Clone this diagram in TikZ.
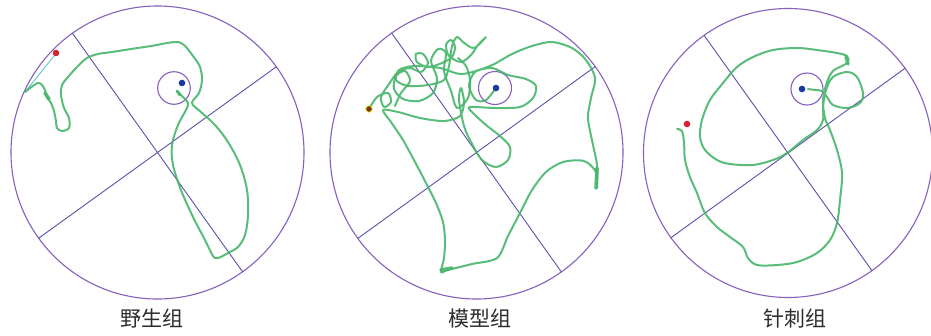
\documentclass[tikz,border=0pt]{standalone}
\usepackage{fontspec}
\newfontfamily\cjk{Noto Sans CJK SC}
\definecolor{poolc}{RGB}{135,95,190}
\definecolor{diac}{RGB}{90,80,170}
\definecolor{trackc}{RGB}{72,182,108}
\definecolor{cyanc}{RGB}{80,190,200}
\definecolor{redc}{RGB}{215,35,50}
\definecolor{bluec}{RGB}{25,55,165}
\definecolor{brownc}{RGB}{110,60,30}
\definecolor{labc}{RGB}{45,45,45}
\tikzset{
  pool/.style={draw=poolc, line width=1.1pt},
  dia/.style={draw=diac, line width=0.9pt},
  plat/.style={draw=poolc, line width=1.1pt},
  track/.style={draw=trackc, line width=2pt, line join=round, line cap=round, opacity=0.9},
  thin track/.style={draw=cyanc, line width=0.8pt},
  dotred/.style={fill=redc, draw=none},
  dotblue/.style={fill=bluec, draw=none},
  lab/.style={font=\cjk\fontsize{21}{21}\selectfont, text=labc, inner sep=0pt}
}
\begin{document}
\begin{tikzpicture}[x=1pt,y=-1pt]
\useasboundingbox[fill=white] (0,0) rectangle (931,335);

% ---------- pool 1 ----------
\coordinate (c1) at (157.5,152.5);
\draw[pool] (c1) circle[radius=146.5];
\path (c1) ++(234.5:146.5) coordinate (a1s) (c1) ++(54.5:146.5) coordinate (a1e)
      (c1) ++(144.2:146.5) coordinate (b1s) (c1) ++(-35.8:146.5) coordinate (b1e);
\draw[dia] (a1s) -- (a1e);
\draw[dia] (b1s) -- (b1e);
\draw[plat] (174,88) circle[radius=16.3];
\draw[thin track] (54,56) -- (25,92);
\draw[track] plot[smooth, tension=0.55] coordinates {
 (25,92) (38,83) (44,88) (47,97) (51,103) (54,111) (56,121) (57,128) (62,131) (69,128) (69,118)
 (64,108) (61,95) (62,85) (68,77) (78,66) (87,58) (98,54) (112,52) (131,49) (151,46) (175,42)
 (184,45) (193,56) (200,67) (202,80) (199,93) (192,103) (201,112) (215,125) (228,142) (240,165)
 (247,190) (248,215) (245,235) (238,247) (228,253) (218,258) (213,256) (205,240) (193,217)
 (181,190) (173,165) (172,145) (178,125) (186,110) (188,103) (183,97) (178,92)};
\draw[track, line width=3.5pt] (45,93) -- (49,99);
\draw[track, line width=3pt] (180,95) -- (177,91);
\fill[dotred] (56,53) circle[radius=3.3];
\fill[dotblue] (182,83) circle[radius=3.3];
\node[lab] (l1) at (152,319) {野生组};

% ---------- pool 2 ----------
\coordinate (c2) at (476.5,152.5);
\draw[pool] (c2) circle[radius=146.5];
\path (c2) ++(234.6:146.5) coordinate (a2s) (c2) ++(54.6:146.5) coordinate (a2e)
      (c2) ++(144.1:146.5) coordinate (b2s) (c2) ++(-35.9:146.5) coordinate (b2e);
\draw[dia] (a2s) -- (a2e);
\draw[dia] (b2s) -- (b2e);
\draw[plat] (495,88) circle[radius=16.5];
\draw[track] plot[smooth, tension=0.5] coordinates {
 (369,109) (377,97) (388,93) (391,102) (384,107) (381,97) (389,84) (398,72) (410,68) (421,72)
 (428,63) (423,54) (416,54) (417,62) (428,67) (442,63) (452,57) (455,47) (451,40) (446,45)
 (449,56) (461,62) (471,55) (478,45) (486,37) (474,48) (463,42) (457,37) (452,46) (449,66)
 (444,80) (428,85) (408,86) (396,80) (399,70) (414,66) (440,68) (462,74) (490,66) (512,54)
 (532,46) (552,42) (572,48) (586,60) (595,78) (591,98) (588,118) (593,145) (597,165) (597,188)
 (596,172) (584,161) (563,162) (546,172) (532,190) (520,213) (508,236) (497,258) (472,264)
 (448,270) (441,272) (444,258) (445,240) (443,222) (436,203) (426,183) (415,162) (403,140)
 (391,122) (383,110) (398,112) (420,118) (444,121) (460,116) (464,102) (461,88) (459,100)
 (464,126) (471,142) (482,160) (496,167) (508,160) (510,147) (500,136) (486,125) (472,112)
 (470,107) (495,108) (520,107) (533,98) (536,86) (526,79) (508,75) (492,68) (475,72)
 (469,86) (476,100) (486,100) (496,88)};
\draw[track] plot[smooth, tension=0.5] coordinates {
 (395,106) (401,93) (410,81) (405,71) (396,76) (394,89) (403,99) (419,101) (433,93) (437,78)
 (431,61) (438,49) (446,53) (444,71) (451,91) (457,108) (468,98) (470,80) (466,66) (458,58)};
\draw[track, line width=3.6pt] (597,168) -- (596,188);
\draw[track, line width=3.6pt] (441,270) -- (452,268);
\fill[brownc] (369,109) circle[radius=3];
\draw[yellow!80!orange, line width=0.6pt] (369,109) circle[radius=3.3];
\fill[dotblue] (496,88) circle[radius=3.3];
\node[lab] (l2) at (479.5,319) {模型组};

% ---------- pool 3 ----------
\coordinate (c3) at (788,153);
\draw[pool] (c3) circle[radius=144.5];
\path (c3) ++(234.5:144.5) coordinate (a3s) (c3) ++(54.5:144.5) coordinate (a3e)
      (c3) ++(144.1:144.5) coordinate (b3s) (c3) ++(-35.9:144.5) coordinate (b3e);
\draw[dia] (a3s) -- (a3e);
\draw[dia] (b3s) -- (b3e);
\draw[plat] (807,89) circle[radius=16];
\draw[track] plot[smooth, tension=0.55] coordinates {
 (677,129) (682,131) (684,142) (685,160) (690,177) (697,193) (705,213) (717,227) (730,237)
 (743,247) (748,258) (757,265) (777,265) (797,262) (817,253) (830,240) (837,223) (840,200)
 (842,173) (837,150) (830,130) (825,118) (823,100) (827,82) (833,71) (842,66) (848,62) (847,56)
 (837,53) (817,50) (797,48) (773,50) (753,57) (737,67) (723,83) (710,100) (702,120) (700,137)
 (705,150) (717,160) (730,164) (753,165) (773,160) (787,153) (803,140) (817,130) (823,120)
 (823,107) (826,90) (833,77) (847,72) (857,77) (863,93) (860,103) (847,108) (833,105)
 (827,97) (822,91) (815,90) (808,89)};
\draw[track, line width=3.4pt] (846,57) -- (848,64);
\fill[dotred] (687,124) circle[radius=3.3];
\fill[dotblue] (802,89) circle[radius=3.3];
\node[lab] (l3) at (795,319) {针刺组};
\end{tikzpicture}
\end{document}
